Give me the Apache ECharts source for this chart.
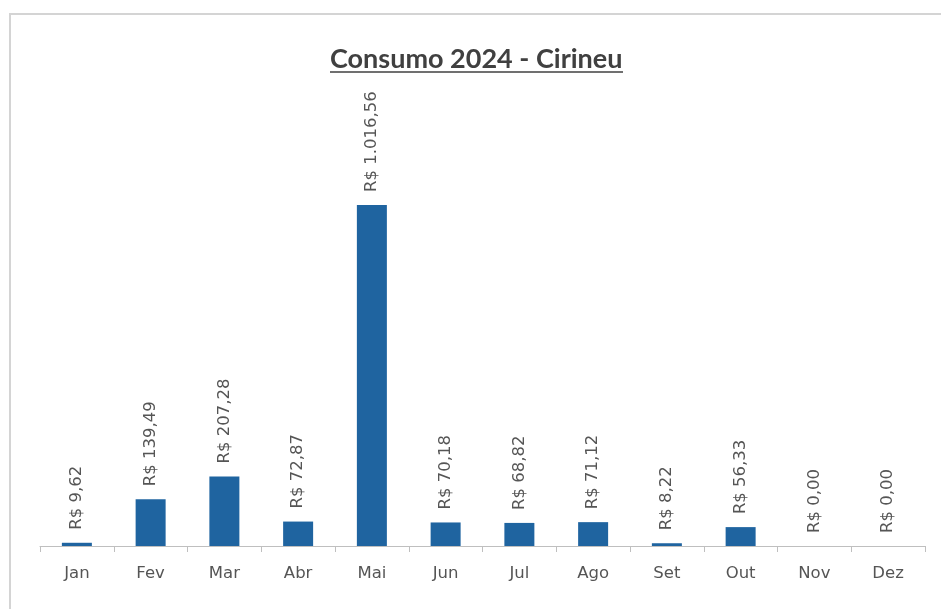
<!DOCTYPE html>
<html><head><meta charset="utf-8">
<script src="https://cdn.jsdelivr.net/npm/echarts@6/dist/echarts.min.js"></script>
<style>html,body{margin:0;padding:0;background:#fff}#c{width:941px;height:609px}</style>
</head><body><div id="c"></div>
<script>
const months = ['Jan','Fev','Mar','Abr','Mai','Jun','Jul','Ago','Set','Out','Nov','Dez'];
const consumo = [9.62,139.49,207.28,72.87,1016.56,70.18,68.82,71.12,8.22,56.33,0,0];
const titleText = 'Consumo 2024 - Cirineu';

function brl(v){
  const parts = v.toFixed(2).split('.');
  const int = parts[0].replace(/\B(?=(\d{3})+(?!\d))/g,'.');
  return 'R$ ' + int + ',' + parts[1];
}
const chart = echarts.init(document.getElementById('c'));
chart.setOption({
  animation:false,
  backgroundColor:'#fff',
  title:{text:titleText,left:325,top:41,textStyle:{fontFamily:'Lato',fontWeight:'bold',fontSize:27,color:'#404040'}},
  graphic:[
    {type:'rect',shape:{x:10,y:14,width:940,height:600},style:{fill:'none',stroke:'#d4d4d4',lineWidth:2},silent:true},
    {type:'line',shape:{x1:330,y1:72,x2:623,y2:72},style:{stroke:'#404040',lineWidth:1.5},silent:true}
  ],
  grid:{left:40,right:16,top:143.5,bottom:63},
  xAxis:{type:'category',data:months,
    axisLine:{lineStyle:{color:'#bfbfbf',width:1}},
    axisTick:{show:true,alignWithLabel:false,length:6,lineStyle:{color:'#bfbfbf'}},
    axisLabel:{color:'#555555',fontFamily:'DejaVu Sans',fontSize:16.5,margin:19}},
  yAxis:{type:'value',min:0,max:1200,show:false,splitLine:{show:false}},
  series:[{type:'bar',data:consumo,barWidth:30,itemStyle:{color:'#1f64a0'},
    label:{show:true,position:'top',rotate:90,align:'left',verticalAlign:'middle',distance:13,
      color:'#555555',fontFamily:'DejaVu Sans',fontSize:16.5,formatter:p=>brl(p.value)}}]
});
</script></body></html>
